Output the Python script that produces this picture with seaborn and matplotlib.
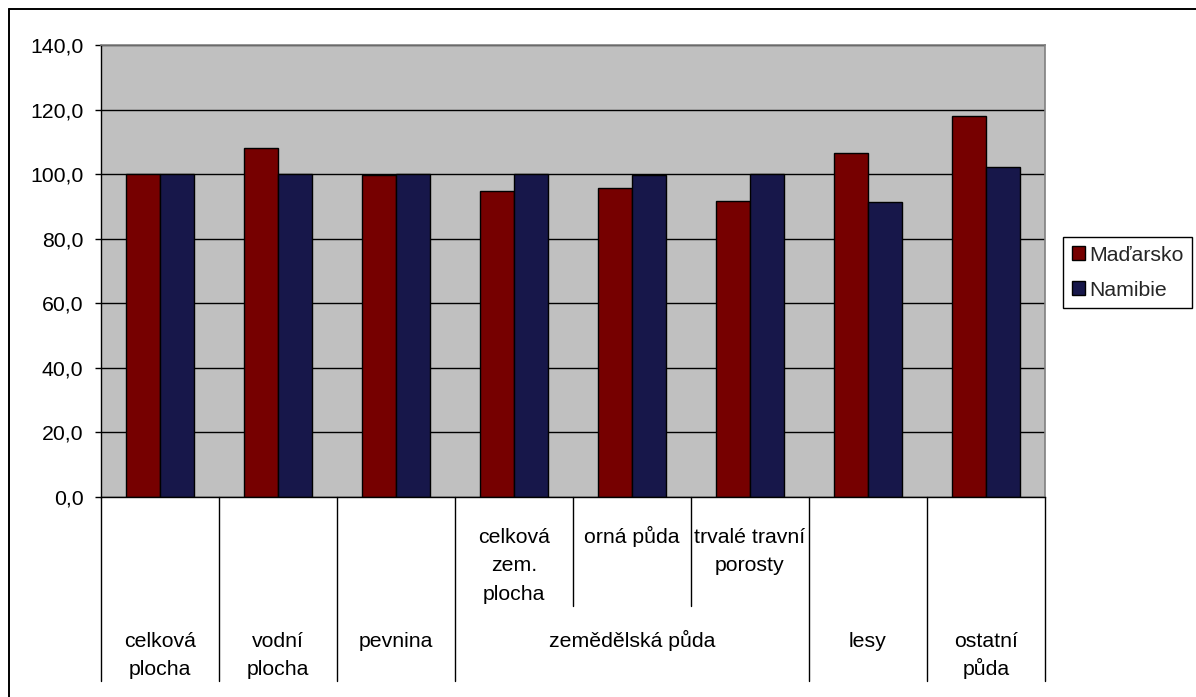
import matplotlib
matplotlib.use("Agg")
import matplotlib.pyplot as plt
import matplotlib.transforms as mtransforms
from matplotlib.lines import Line2D
import seaborn as sns
import pandas as pd

# ---- data ----
categories = ["celková plocha", "vodní plocha", "pevnina", "celková zem. plocha",
              "orná půda", "trvalé travní porosty", "lesy", "ostatní půda"]
madarsko = [100.0, 108.0, 99.7, 94.9, 95.6, 91.7, 106.5, 118.0]
namibie = [100.0, 100.0, 100.0, 100.0, 99.6, 100.0, 91.3, 102.2]
series_names = ["Maďarsko", "Namibie"]
series_colors = ["#760000", "#17174A"]

# sub-level labels (index in categories -> text)
sub_labels = {3: "celková\nzem.\nplocha", 4: "orná půda", 5: "trvalé travní\nporosty"}
# top-level groups: (label, first index, last index)
groups = [("celková\nplocha", 0, 0), ("vodní\nplocha", 1, 1), ("pevnina", 2, 2),
          ("zemědělská půda", 3, 5), ("lesy", 6, 6), ("ostatní\npůda", 7, 7)]
yticks = [0, 20, 40, 60, 80, 100, 120, 140]

df = pd.DataFrame({
    "kategorie": categories * 2,
    "hodnota": madarsko + namibie,
    "zeme": [series_names[0]] * len(categories) + [series_names[1]] * len(categories),
})

sns.set_theme(style="white")
plt.rcParams["font.family"] = ["Liberation Sans", "DejaVu Sans"]
FS = 15.3

W, H = 1196, 697
fig = plt.figure(figsize=(W / 100, H / 100), dpi=100)
fig.patch.set_facecolor("white")
ax = fig.add_axes([101 / W, 1 - 497 / H, (1045 - 101) / W, (497 - 45) / H])
ax.set_facecolor("#C0C0C0")

sns.barplot(data=df, x="kategorie", y="hodnota", hue="zeme", order=categories,
            hue_order=series_names, palette=series_colors, width=0.576,
            saturation=1, edgecolor="black", linewidth=1.0, ax=ax)

ax.set_xlim(-0.5, len(categories) - 0.5)
ax.set_ylim(0, 140)
ax.set_yticks(yticks)
ax.set_yticklabels([f"{v:.1f}".replace(".", ",") for v in yticks], fontsize=FS, color="black")
ax.tick_params(axis="y", direction="out", length=4.3, width=1.0, color="black", pad=8.4, left=True)
ax.set_xticks([])
ax.set_xlabel("")
ax.set_ylabel("")
ax.yaxis.grid(True, color="black", linewidth=1.0)
ax.set_axisbelow(True)
for side in ["left", "bottom"]:
    ax.spines[side].set_color("black")
    ax.spines[side].set_linewidth(1.0)
for side in ["top", "right"]:
    ax.spines[side].set_color("#808080")
    ax.spines[side].set_linewidth(1.2)

# ---- multi-level category axis ----
tr = mtransforms.blended_transform_factory(ax.transData, fig.transFigure)
def fy(px):
    return 1 - px / H

n = len(categories)
inner_bounds = set()
for label, a, b in groups:
    for k in range(a, b):
        inner_bounds.add(k + 0.5)
for k in range(n + 1):
    xb = k - 0.5
    yend = 606 if xb in inner_bounds else 681
    fig.add_artist(Line2D([xb, xb], [fy(497), fy(yend)], transform=tr, color="black", lw=1.0))

LINE_STEP = 28.3
def put_lines(xc, base_px, txt):
    for i, line in enumerate(txt.split("\n")):
        fig.text(xc, fy(base_px + i * LINE_STEP), line, transform=tr, ha="center",
                 va="baseline", fontsize=FS, color="black")

for idx, txt in sub_labels.items():
    put_lines(idx, 543, txt)
for label, a, b in groups:
    put_lines((a + b) / 2, 647, label)

# ---- legend ----
handles, labels = ax.get_legend_handles_labels()
if ax.get_legend() is not None:
    ax.get_legend().remove()
leg = fig.legend(handles, labels, loc="upper left",
                 bbox_to_anchor=(1062.7 / W, fy(236.7)), bbox_transform=fig.transFigure,
                 frameon=True, fancybox=False, edgecolor="black", framealpha=1,
                 borderaxespad=0, borderpad=0.42, handlelength=0.62, handleheight=0.62,
                 handletextpad=0.2, labelspacing=0.75, fontsize=FS)
leg.get_frame().set_linewidth(1.0)
for h in leg.legend_handles:
    h.set_edgecolor("black")
    h.set_linewidth(1.0)

# ---- outer chart border (top and left visible) ----
fig.add_artist(Line2D([9 / W, 1], [fy(9), fy(9)], transform=fig.transFigure, color="black", lw=1.4))
fig.add_artist(Line2D([9 / W, 9 / W], [fy(9), 0], transform=fig.transFigure, color="black", lw=1.4))

fig.savefig("out.png", dpi=100, facecolor="white")
